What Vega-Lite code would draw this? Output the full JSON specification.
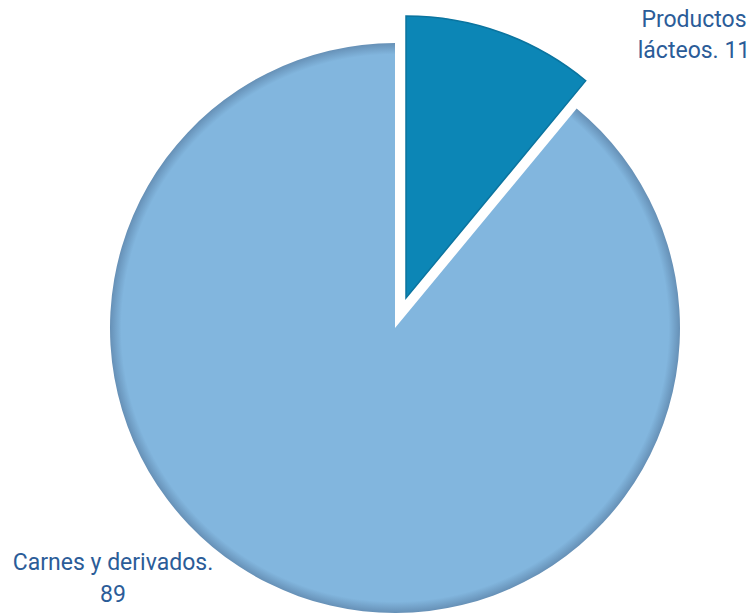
{
  "$schema": "https://vega.github.io/schema/vega-lite/v6.json",
  "width": 716,
  "height": 572,
  "padding": {"left": 37, "top": 42, "right": 0, "bottom": 0},
  "autosize": {"type": "none"},
  "background": "white",
  "config": {"view": {"stroke": null}},
  "data": {
    "values": [
      {"categoria": "Productos lácteos", "valor": 11, "etiqueta": "Productos\nlácteos. 11"},
      {"categoria": "Carnes y derivados", "valor": 89, "etiqueta": "Carnes y derivados.\n89"}
    ]
  },
  "transform": [
    {"stack": "valor", "groupby": [], "sort": [{"field": "valor", "order": "ascending"}], "as": ["v0", "v1"]}
  ],
  "layer": [
    {
      "transform": [{"filter": "datum.categoria === 'Carnes y derivados'"}],
      "mark": {
        "type": "arc",
        "radius": 285,
        "fill": {
          "gradient": "radial",
          "x1": 0.5, "y1": 0.5, "r1": 0,
          "x2": 0.5, "y2": 0.5, "r2": 0.5,
          "stops": [
            {"offset": 0, "color": "#82B6DE"},
            {"offset": 0.96, "color": "#82B6DE"},
            {"offset": 1, "color": "#6690B6"}
          ]
        }
      },
      "encoding": {
        "theta": {"field": "v0", "type": "quantitative", "scale": {"domain": [0, 100]}},
        "theta2": {"field": "v1"}
      }
    },
    {
      "transform": [{"filter": "datum.categoria === 'Productos lácteos'"}],
      "mark": {
        "type": "arc",
        "radius": 282,
        "xOffset": 11,
        "yOffset": -30,
        "fill": "#0C86B6",
        "stroke": "#0B749F",
        "strokeWidth": 1.5
      },
      "encoding": {
        "theta": {"field": "v0", "type": "quantitative", "scale": {"domain": [0, 100]}},
        "theta2": {"field": "v1"}
      }
    },
    {
      "transform": [{"filter": "datum.categoria === 'Productos lácteos'"}],
      "mark": {
        "type": "text",
        "theta": 0,
        "radius": 0,
        "dx": 299,
        "dy": -308,
        "align": "center",
        "baseline": "middle",
        "lineBreak": "\n",
        "lineHeight": 31,
        "font": "Roboto",
        "fontSize": 23,
        "color": "#2B5C98"
      },
      "encoding": {"text": {"field": "etiqueta"}}
    },
    {
      "transform": [{"filter": "datum.categoria === 'Carnes y derivados'"}],
      "mark": {
        "type": "text",
        "theta": 0,
        "radius": 0,
        "dx": -282,
        "dy": 235,
        "align": "center",
        "baseline": "middle",
        "lineBreak": "\n",
        "lineHeight": 32,
        "font": "Roboto",
        "fontSize": 23,
        "color": "#2B5C98"
      },
      "encoding": {"text": {"field": "etiqueta"}}
    }
  ]
}
